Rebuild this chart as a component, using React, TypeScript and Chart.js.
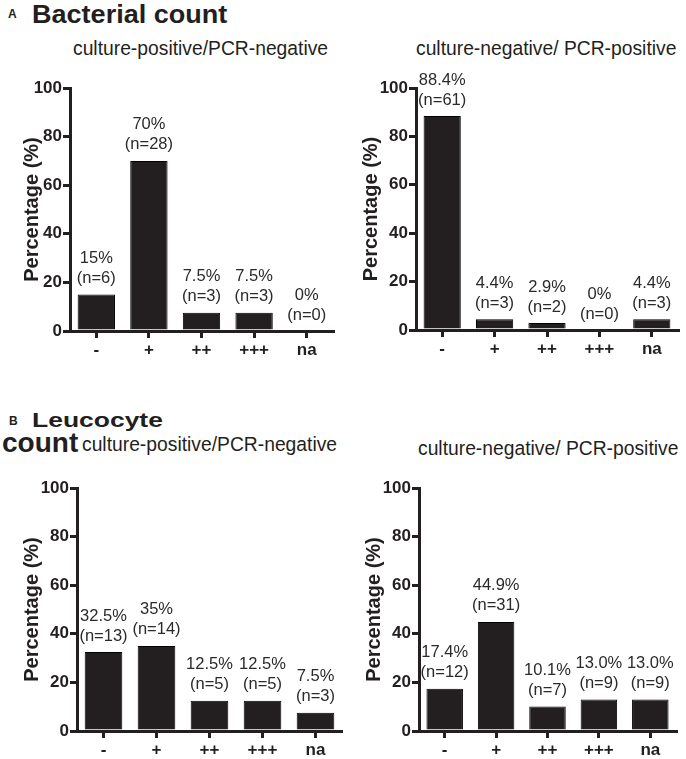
import React, { useEffect, useRef } from 'react';
import { Chart, registerables } from 'chart.js';

Chart.register(...registerables);

const FONT = '"Liberation Sans", Arial, Helvetica, sans-serif';
const INK = '#231f20';
const LABEL_INK = '#2a2a2a';

// ---- data ----
const categories = ['-', '+', '++', '+++', 'na'];
const yTickValues = [0, 20, 40, 60, 80, 100];

const bactPosNegValues = [15, 70, 7.5, 7.5, 0];
const bactPosNegPct = ['15%', '70%', '7.5%', '7.5%', '0%'];
const bactPosNegN = [6, 28, 3, 3, 0];

const bactNegPosValues = [88.4, 4.4, 2.9, 0, 4.4];
const bactNegPosPct = ['88.4%', '4.4%', '2.9%', '0%', '4.4%'];
const bactNegPosN = [61, 3, 2, 0, 3];

const leucPosNegValues = [32.5, 35, 12.5, 12.5, 7.5];
const leucPosNegPct = ['32.5%', '35%', '12.5%', '12.5%', '7.5%'];
const leucPosNegN = [13, 14, 5, 5, 3];

const leucNegPosValues = [17.4, 44.9, 10.1, 13.0, 13.0];
const leucNegPosPct = ['17.4%', '44.9%', '10.1%', '13.0%', '13.0%'];
const leucNegPosN = [12, 31, 7, 9, 9];

const yAxisTitle = 'Percentage (%)';

type PanelProps = {
  x: number;
  y: number;
  w: number;
  h: number;
  values: number[];
  pct: string[];
  n: number[];
  left: number;
  right: number;
  top: number;
  bottom: number;
  xH: number;
  titleCenter: number;
};

function Panel(p: PanelProps) {
  const ref = useRef<HTMLCanvasElement | null>(null);
  useEffect(() => {
    if (!ref.current) return;
    const labelPlugin = {
      id: 'barLabels',
      afterDatasetsDraw(chart: any) {
        const ctx = chart.ctx;
        const meta = chart.getDatasetMeta(0);
        ctx.save();
        ctx.font = `16.5px ${FONT}`;
        ctx.fillStyle = LABEL_INK;
        ctx.textAlign = 'center';
        ctx.textBaseline = 'middle';
        meta.data.forEach((el: any, i: number) => {
          const { x, y } = el.getProps(['x', 'y'], true);
          ctx.fillText(p.pct[i], x, y - 36);
          ctx.fillText(`(n=${p.n[i]})`, x, y - 16);
        });
        ctx.restore();
      },
    };
    const tickFont = { family: FONT, size: 17, weight: 'bold' as const };
    const chart = new Chart(ref.current, {
      type: 'bar',
      data: {
        labels: categories,
        datasets: [
          {
            data: p.values,
            backgroundColor: INK,
            borderColor: '#000',
            borderWidth: 1,
            barPercentage: 0.71,
            categoryPercentage: 1,
          },
        ],
      },
      options: {
        animation: false,
        responsive: false,
        maintainAspectRatio: false,
        events: [],
        layout: {
          padding: { left: 0, top: p.top, right: p.w - p.right, bottom: p.h - p.bottom - p.xH },
        },
        plugins: { legend: { display: false }, tooltip: { enabled: false } },
        scales: {
          x: {
            type: 'category',
            offset: true,
            grid: {
              display: true,
              drawOnChartArea: false,
              drawTicks: true,
              tickLength: 7,
              lineWidth: 3,
              color: INK,
              offset: false,
            },
            border: { display: true, width: 3, color: INK },
            ticks: { font: tickFont, color: INK, padding: 2, maxRotation: 0, autoSkip: false },
            afterFit: (s: any) => {
              s.height = p.xH;
            },
          },
          y: {
            min: 0,
            max: 100,
            afterBuildTicks: (s: any) => {
              s.ticks = yTickValues.map((v) => ({ value: v }));
            },
            ticks: { font: tickFont, color: INK, padding: 1 },
            grid: {
              display: true,
              drawOnChartArea: false,
              drawTicks: true,
              tickLength: 7,
              lineWidth: 3,
              color: INK,
            },
            border: { display: true, width: 3, color: INK },
            title: {
              display: true,
              text: yAxisTitle,
              color: INK,
              font: { family: FONT, size: 20, weight: 'bold' },
              padding: { top: p.titleCenter - 12, bottom: 0 },
            },
            afterFit: (s: any) => {
              s.width = p.left;
            },
          },
        },
      } as any,
      plugins: [labelPlugin],
    });
    return () => chart.destroy();
  }, []);
  return (
    <canvas
      ref={ref}
      width={p.w}
      height={p.h}
      style={{ position: 'absolute', left: p.x, top: p.y, width: p.w, height: p.h }}
    />
  );
}

type TextProps = {
  x: number;
  base: number;
  size: number;
  bold?: boolean;
  sx?: number;
  children: string;
};

function Txt({ x, base, size, bold, sx = 1, children }: TextProps) {
  return (
    <div
      style={{
        position: 'absolute',
        left: x,
        top: base - 0.8465 * size,
        fontFamily: FONT,
        fontSize: size,
        lineHeight: `${size}px`,
        fontWeight: bold ? 'bold' : 'normal',
        color: INK,
        whiteSpace: 'nowrap',
        transform: `scaleX(${sx})`,
        transformOrigin: 'left center',
      }}
    >
      {children}
    </div>
  );
}

export default function App() {
  return (
    <div
      style={{
        position: 'absolute',
        left: 0,
        top: 0,
        width: 686,
        height: 759,
        background: '#fff',
        overflow: 'hidden',
      }}
    >
      <Txt x={8} base={18} size={12} bold>A</Txt>
      <Txt x={32} base={23} size={26} bold sx={1.04}>Bacterial count</Txt>
      <Txt x={73} base={55} size={19.3}>culture-positive/PCR-negative</Txt>
      <Txt x={416} base={55} size={19.3}>culture-negative/ PCR-positive</Txt>

      <Txt x={9} base={425} size={12} bold>B</Txt>
      <Txt x={32} base={427} size={21} bold sx={1.26}>Leucocyte</Txt>
      <Txt x={2} base={452.5} size={28} bold>count</Txt>
      <Txt x={82} base={451.5} size={19.3}>culture-positive/PCR-negative</Txt>
      <Txt x={418} base={455} size={19.3}>culture-negative/ PCR-positive</Txt>

      <Panel x={0} y={0} w={343} h={380} values={bactPosNegValues} pct={bactPosNegPct} n={bactPosNegN}
        left={70} right={333} top={88} bottom={331} xH={40} titleCenter={32} />
      <Panel x={343} y={0} w={343} h={380} values={bactNegPosValues} pct={bactNegPosPct} n={bactNegPosN}
        left={73} right={335} top={88} bottom={330} xH={40} titleCenter={28} />
      <Panel x={0} y={380} w={343} h={379} values={leucPosNegValues} pct={leucPosNegPct} n={leucPosNegN}
        left={77} right={342} top={108} bottom={351} xH={28} titleCenter={32} />
      <Panel x={343} y={380} w={343} h={379} values={leucNegPosValues} pct={leucNegPosPct} n={leucNegPosN}
        left={76} right={333} top={108} bottom={351} xH={28} titleCenter={31} />
    </div>
  );
}
